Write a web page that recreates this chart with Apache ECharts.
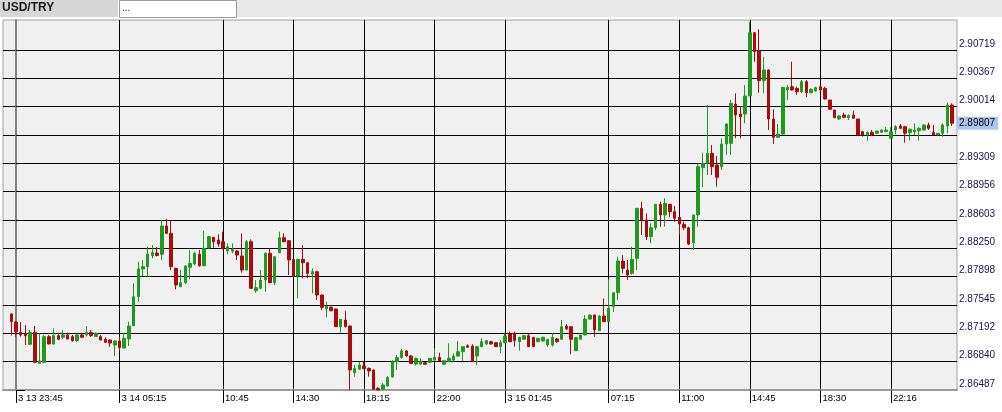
<!DOCTYPE html>
<html>
<head>
<meta charset="utf-8">
<script src="https://cdn.jsdelivr.net/npm/echarts@6/dist/echarts.min.js"></script>
<style>
html,body{margin:0;padding:0;background:#ffffff;}
#chart{width:1002px;height:412px;}
</style>
</head>
<body>
<div id="chart"></div>
<script>
// ---- data (15-minute candles, index 0 = "3 13 23:45") ----
const symbolName = 'USD/TRY';
const firstIndex = -1;
// [open, close, low, high]
const candles = [
[2.87433,2.87337,2.87166,2.87445],
[2.87333,2.87213,2.87153,2.87345],
[2.87205,2.87172,2.87151,2.87333],
[2.87193,2.87163,2.87047,2.87296],
[2.87056,2.87205,2.87050,2.87234],
[2.87205,2.86831,2.86828,2.87283],
[2.86819,2.86848,2.86815,2.87193],
[2.86831,2.87151,2.86828,2.87172],
[2.87151,2.87060,2.87056,2.87172],
[2.87060,2.87163,2.87050,2.87255],
[2.87163,2.87118,2.87110,2.87200],
[2.87143,2.87172,2.87118,2.87234],
[2.87172,2.87122,2.87118,2.87200],
[2.87151,2.87101,2.87089,2.87172],
[2.87101,2.87172,2.87089,2.87193],
[2.87172,2.87143,2.87140,2.87200],
[2.87172,2.87205,2.87151,2.87283],
[2.87205,2.87163,2.87147,2.87234],
[2.87151,2.87193,2.87147,2.87200],
[2.87151,2.87109,2.87105,2.87172],
[2.87118,2.87080,2.87076,2.87143],
[2.87109,2.87072,2.87026,2.87118],
[2.87047,2.87097,2.86910,2.87105],
[2.87097,2.87015,2.86973,2.87151],
[2.87010,2.87130,2.87000,2.87193],
[2.87122,2.87283,2.87035,2.87337],
[2.87287,2.87648,2.87283,2.87815],
[2.87648,2.87993,2.87586,2.88084],
[2.87993,2.88022,2.87897,2.88105],
[2.88022,2.88180,2.87889,2.88270],
[2.88159,2.88196,2.88126,2.88291],
[2.88192,2.88161,2.88150,2.88267],
[2.88176,2.88528,2.88105,2.88603],
[2.88528,2.88437,2.88430,2.88612],
[2.88437,2.88022,2.87980,2.88594],
[2.88001,2.87794,2.87740,2.88010],
[2.87773,2.87823,2.87765,2.87980],
[2.87823,2.88030,2.87806,2.88042],
[2.88014,2.88063,2.87864,2.88229],
[2.88055,2.88188,2.88042,2.88209],
[2.88176,2.88034,2.88022,2.88229],
[2.88034,2.88250,2.88030,2.88470],
[2.88254,2.88395,2.88250,2.88404],
[2.88387,2.88333,2.88258,2.88395],
[2.88354,2.88304,2.88270,2.88425],
[2.88333,2.88250,2.88238,2.88458],
[2.88220,2.88270,2.88180,2.88312],
[2.88213,2.88238,2.88188,2.88312],
[2.88217,2.88167,2.88105,2.88229],
[2.88155,2.87980,2.87947,2.88437],
[2.87980,2.88333,2.87975,2.88354],
[2.88333,2.87752,2.87745,2.88362],
[2.87723,2.87760,2.87698,2.87856],
[2.87752,2.87856,2.87740,2.87980],
[2.87856,2.88188,2.87710,2.88200],
[2.88188,2.87823,2.87815,2.88250],
[2.87823,2.88146,2.87794,2.88150],
[2.88196,2.88383,2.88190,2.88458],
[2.88383,2.88333,2.88325,2.88437],
[2.88345,2.88105,2.87918,2.88350],
[2.88113,2.87906,2.87900,2.88120],
[2.87906,2.88113,2.87628,2.88120],
[2.88113,2.88071,2.87877,2.88291],
[2.88071,2.87939,2.87877,2.88075],
[2.87931,2.87960,2.87690,2.88001],
[2.87960,2.87669,2.87607,2.87965],
[2.87669,2.87516,2.87482,2.87675],
[2.87499,2.87532,2.87391,2.87586],
[2.87516,2.87473,2.87469,2.87526],
[2.87495,2.87275,2.87271,2.87501],
[2.87275,2.87366,2.87200,2.87370],
[2.87358,2.87275,2.87267,2.87470],
[2.87283,2.86736,2.86487,2.87289],
[2.86702,2.86757,2.86653,2.86798],
[2.86745,2.86798,2.86736,2.86840],
[2.86786,2.86752,2.86749,2.86835],
[2.86757,2.86724,2.86653,2.86767],
[2.86736,2.86496,2.86491,2.86742],
[2.86505,2.86487,2.86487,2.86524],
[2.86496,2.86549,2.86494,2.86574],
[2.86536,2.86642,2.86530,2.86661],
[2.86649,2.86840,2.86642,2.86860],
[2.86840,2.86890,2.86736,2.86923],
[2.86890,2.86973,2.86880,2.86998],
[2.86973,2.86910,2.86904,2.86985],
[2.86910,2.86817,2.86810,2.86923],
[2.86810,2.86881,2.86790,2.86890],
[2.86810,2.86848,2.86798,2.86880],
[2.86827,2.86807,2.86804,2.86830],
[2.86831,2.86881,2.86830,2.86885],
[2.86860,2.86894,2.86840,2.87006],
[2.86894,2.86848,2.86840,2.86951],
[2.86807,2.86852,2.86798,2.86855],
[2.86840,2.86881,2.86835,2.87068],
[2.86860,2.86910,2.86840,2.86944],
[2.86910,2.86964,2.86904,2.87097],
[2.86964,2.87026,2.86848,2.87031],
[2.87038,2.87019,2.87016,2.87056],
[2.87035,2.86840,2.86835,2.87056],
[2.86910,2.87026,2.86798,2.87035],
[2.87026,2.87088,2.87022,2.87130],
[2.87060,2.87101,2.87047,2.87109],
[2.87088,2.87060,2.87053,2.87101],
[2.87076,2.87026,2.87022,2.87084],
[2.87026,2.87076,2.86944,2.87109],
[2.87076,2.87159,2.87068,2.87200],
[2.87184,2.87088,2.87084,2.87213],
[2.87193,2.87101,2.87026,2.87213],
[2.87088,2.87143,2.86976,2.87147],
[2.87118,2.87163,2.87116,2.87172],
[2.87163,2.87026,2.87022,2.87193],
[2.87143,2.87026,2.87022,2.87147],
[2.87088,2.87130,2.87084,2.87134],
[2.87097,2.87143,2.87091,2.87151],
[2.87047,2.87118,2.87026,2.87122],
[2.87047,2.87143,2.87026,2.87193],
[2.87122,2.87088,2.87076,2.87138],
[2.87118,2.87275,2.87116,2.87358],
[2.87283,2.87250,2.87234,2.87308],
[2.87275,2.87118,2.86931,2.87277],
[2.86976,2.87138,2.86973,2.87147],
[2.87118,2.87172,2.87116,2.87178],
[2.87172,2.87370,2.87166,2.87420],
[2.87370,2.87420,2.87358,2.87426],
[2.87420,2.87234,2.87151,2.87426],
[2.87225,2.87408,2.87221,2.87420],
[2.87408,2.87337,2.87333,2.87628],
[2.87337,2.87504,2.87333,2.87865],
[2.87524,2.87698,2.87461,2.87700],
[2.87698,2.88092,2.87607,2.88146],
[2.88092,2.88001,2.87939,2.88167],
[2.87980,2.87918,2.87856,2.88105],
[2.87939,2.88113,2.87918,2.88270],
[2.88126,2.88748,2.87980,2.88752],
[2.88748,2.88603,2.88416,2.88830],
[2.88603,2.88395,2.88354,2.88686],
[2.88395,2.88507,2.88313,2.88562],
[2.88507,2.88798,2.88478,2.88802],
[2.88798,2.88665,2.88519,2.88830],
[2.88665,2.88810,2.88519,2.88873],
[2.88798,2.88706,2.88636,2.88802],
[2.88706,2.88624,2.88582,2.88777],
[2.88636,2.88553,2.88416,2.88640],
[2.88549,2.88507,2.88478,2.88582],
[2.88507,2.88304,2.88291,2.88519],
[2.88320,2.88665,2.88229,2.88670],
[2.88665,2.89266,2.88519,2.89308],
[2.89254,2.89308,2.89010,2.89440],
[2.89308,2.89433,2.89163,2.90034],
[2.89433,2.89266,2.89163,2.89536],
[2.89287,2.89134,2.89017,2.89399],
[2.89266,2.89549,2.89225,2.89620],
[2.89549,2.89798,2.89412,2.89802],
[2.89557,2.90055,2.89412,2.90096],
[2.90046,2.89910,2.89620,2.90180],
[2.89922,2.89888,2.89620,2.90022],
[2.89922,2.90146,2.89806,2.90283],
[2.90146,2.90934,2.90146,2.91071],
[2.90934,2.90698,2.90573,2.90936],
[2.90710,2.90337,2.90187,2.90976],
[2.90337,2.90470,2.90180,2.90635],
[2.90470,2.89860,2.89723,2.90478],
[2.89860,2.89632,2.89549,2.89981],
[2.89632,2.89673,2.89630,2.89798],
[2.89673,2.90254,2.89667,2.90258],
[2.90221,2.90254,2.90096,2.90283],
[2.90262,2.90221,2.90215,2.90573],
[2.90242,2.90200,2.90159,2.90262],
[2.90200,2.90324,2.90180,2.90345],
[2.90324,2.90187,2.90130,2.90345],
[2.90187,2.90229,2.90180,2.90242],
[2.90208,2.90250,2.90200,2.90262],
[2.90262,2.90221,2.90215,2.90271],
[2.90242,2.90109,2.90103,2.90262],
[2.90096,2.89981,2.89972,2.90096],
[2.89972,2.89876,2.89869,2.89972],
[2.89860,2.89897,2.89847,2.89910],
[2.89910,2.89881,2.89878,2.89938],
[2.89876,2.89901,2.89847,2.89918],
[2.89910,2.89869,2.89866,2.89963],
[2.89860,2.89661,2.89655,2.89860],
[2.89702,2.89661,2.89640,2.89714],
[2.89661,2.89694,2.89590,2.89702],
[2.89694,2.89661,2.89648,2.89723],
[2.89682,2.89710,2.89679,2.89714],
[2.89694,2.89723,2.89692,2.89729],
[2.89702,2.89723,2.89698,2.89757],
[2.89620,2.89702,2.89617,2.89757],
[2.89723,2.89764,2.89669,2.89785],
[2.89773,2.89744,2.89732,2.89798],
[2.89764,2.89682,2.89565,2.89767],
[2.89689,2.89732,2.89590,2.89744],
[2.89702,2.89723,2.89661,2.89806],
[2.89714,2.89744,2.89590,2.89757],
[2.89723,2.89785,2.89710,2.89794],
[2.89785,2.89744,2.89723,2.89814],
[2.89694,2.89661,2.89655,2.89785],
[2.89661,2.89682,2.89655,2.89686],
[2.89682,2.89785,2.89640,2.89806],
[2.89773,2.90034,2.89682,2.90063],
[2.90034,2.89807,2.89773,2.90055]
];
// x-axis tick positions (candle index) and labels
const xTickIndex = [0, 22, 44, 59, 74, 89, 104, 126, 141, 156, 171, 186];
const xTickLabels = ['3 13 23:45', '3 14 05:15', '10:45', '14:30', '18:15', '22:00',
                     '3 15 01:45', '07:15', '11:00', '14:45', '18:30', '22:16'];
// y-axis grid/tick prices
const yTicks = [2.86487, 2.86840, 2.87192, 2.87545, 2.87898, 2.88250, 2.88603,
                2.88956, 2.89309, 2.89661, 2.90014, 2.90367, 2.90719];
const yLabelValues = yTicks.filter(v => v !== 2.89661);
const yMin = 2.86487, yMax = 2.91092;
const xMin = -2.76, xMax = 200.04;

// ---- build chart ----
const lastClose = candles[candles.length - 1][1];
const seriesData = candles.map((c, k) => [firstIndex + k, c[0], c[1], c[2], c[3]]);
const UP = '#1f9a1f', DOWN = '#a80c0c';
const FONT = 'Liberation Sans, Arial, sans-serif';

const chart = echarts.init(document.getElementById('chart'), null, {renderer: 'canvas'});
chart.setOption({
  animation: false,
  backgroundColor: '#ffffff',
  grid: {
    left: 3, right: 45, top: 20, bottom: 22,
    show: true, backgroundColor: '#f0f0f0', borderColor: '#a0a0a0', borderWidth: 1
  },
  graphic: [
    {type: 'rect', left: 0, top: 0, shape: {width: 118, height: 17}, style: {fill: '#d6d6d6'}, z: 10},
    {type: 'text', left: 2, top: 2, style: {text: symbolName, font: 'bold 12px ' + FONT, fill: '#1a1a1a'}, z: 11},
    {type: 'rect', left: 119, top: 0, shape: {width: 117, height: 17}, style: {fill: '#ffffff', stroke: '#9a9a9a', lineWidth: 1}, z: 10},
    {type: 'text', left: 122, top: 3, style: {text: '...', font: '10px ' + FONT, fill: '#333'}, z: 11},
    {type: 'rect', left: 237, top: 0, shape: {width: 765, height: 17}, style: {fill: '#e8e8e8'}, z: 10}
  ],
  xAxis: {
    type: 'value', min: xMin, max: xMax,
    axisLine: {show: true, onZero: false, lineStyle: {color: '#9a9a9a', width: 2}},
    axisTick: {show: true, customValues: xTickIndex, length: 13, lineStyle: {color: '#000', width: 1}},
    axisLabel: {
      show: true, customValues: xTickIndex,
      formatter: v => xTickLabels[xTickIndex.indexOf(v)],
      align: 'left', margin: 3, padding: [0, 0, 0, 2],
      fontSize: 9.5, fontFamily: FONT, color: '#000'
    },
    splitLine: {show: true, lineStyle: {color: '#000', width: 1}}
  },
  yAxis: {
    type: 'value', position: 'right', min: yMin, max: yMax, scale: true,
    axisLine: {show: true, lineStyle: {color: '#808080', width: 2}},
    axisTick: {show: true, customValues: yTicks, length: 9, inside: false, lineStyle: {color: '#000', width: 1}},
    axisLabel: {
      show: true, customValues: yLabelValues,
      formatter: v => v.toFixed(5),
      align: 'left', verticalAlign: 'bottom', margin: 2, padding: [0, 0, 1, 0],
      fontSize: 10, fontFamily: FONT, color: '#14144a'
    },
    splitLine: {show: true, lineStyle: {color: '#000', width: 1}}
  },
  series: [{
    type: 'candlestick',
    data: seriesData,
    encode: {x: 0, y: [1, 2, 3, 4]},
    barWidth: 3,
    clip: false,
    itemStyle: {color: UP, color0: DOWN, borderColor: UP, borderColor0: DOWN, borderWidth: 1},
    markLine: {
      silent: true, symbol: ['none', 'none'], animation: false, z: 20,
      precision: 5,
      lineStyle: {color: 'rgba(0,0,0,0)', width: 1, type: 'solid'},
      label: {
        show: true, position: 'end', distance: 0,
        formatter: p => Number(p.value).toFixed(5),
        backgroundColor: '#aac6ee', color: '#000', opacity: 1,
        fontSize: 10, fontFamily: FONT, padding: [2, 3, 1, 2]
      },
      emphasis: {disabled: true},
      data: [{yAxis: lastClose}]
    }
  }]
});
</script>
</body>
</html>
